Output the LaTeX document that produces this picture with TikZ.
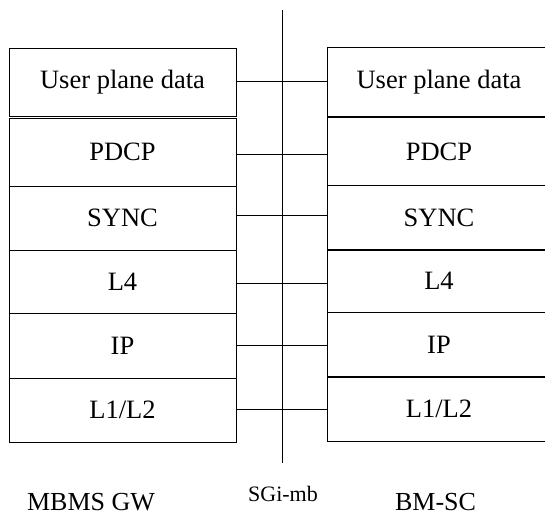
\documentclass[tikz,border=0pt]{standalone}
\usepackage{fontspec}
\setmainfont{Liberation Serif}
\begin{document}
\begin{tikzpicture}[x=1pt,y=-1pt,
  layer/.style={draw, line width=0.9pt, inner sep=0pt, font=\fontsize{26.5}{28}\selectfont},
  rlayer/.style={inner sep=0pt, font=\fontsize{26.5}{28}\selectfont},
  edge/.style={line width=0.9pt},
  link/.style={line width=0.9pt},
  lbl/.style={inner sep=0pt, font=\fontsize{26}{28}\selectfont},
  ifl/.style={inner sep=0pt, font=\fontsize{22}{24}\selectfont}]
\useasboundingbox (0,0) rectangle (545,515);
% left stack (MBMS GW)
\node[layer, minimum width=227pt, minimum height=68pt]   (lu) at (122.5,82)    {User plane data};
\node[layer, minimum width=227pt, minimum height=68pt]   (lp) at (122.5,152)   {PDCP};
\node[layer, minimum width=227pt, minimum height=64pt]   (ls) at (122.5,218)   {SYNC};
\node[layer, minimum width=227pt, minimum height=63.5pt] (l4) at (122.5,281.75) {L4};
\node[layer, minimum width=227pt, minimum height=64.5pt] (li) at (122.5,345.75) {IP};
\node[layer, minimum width=227pt, minimum height=64pt]   (ll) at (122.5,410)   {L1/L2};
% right stack (BM-SC), running off the right edge of the picture
\node[rlayer, minimum width=222pt, minimum height=68pt]   (ru) at (439,82)     {User plane data};
\node[rlayer, minimum width=222pt, minimum height=67.5pt] (rp) at (439,151.75) {PDCP};
\node[rlayer, minimum width=222pt, minimum height=64.5pt] (rs) at (439,217.75) {SYNC};
\node[rlayer, minimum width=222pt, minimum height=62.5pt] (r4) at (439,281.25) {L4};
\node[rlayer, minimum width=222pt, minimum height=64.5pt] (ri) at (439,344.75) {IP};
\node[rlayer, minimum width=222pt, minimum height=64.5pt] (rl) at (439,409.25) {L1/L2};
\foreach \n in {ru,rp,rs,r4,ri,rl}
  \draw[edge] ([xshift=20pt]\n.north east) -- (\n.north west) -- (\n.south west) -- ([xshift=20pt]\n.south east);
% reference point line
\coordinate (ift) at (282,10);
\coordinate (ifb) at (282,463);
\draw[link] (ift) -- (ifb);
% peer links
\draw[link] ([yshift=1pt]lu.east) -- ([yshift=1pt]lu.east -| ru.west);
\draw[link] ([yshift=-2.3pt]lp.east) -- ([yshift=-2.3pt]lp.east -| rp.west);
\draw[link] ([yshift=2.7pt]ls.east) -- ([yshift=2.7pt]ls.east -| rs.west);
\draw[link] ([yshift=-1.2pt]l4.east) -- ([yshift=-1.2pt]l4.east -| r4.west);
\draw[link] ([yshift=0.4pt]li.east) -- ([yshift=0.4pt]li.east -| ri.west);
\draw[link] ([yshift=0.3pt]ll.east) -- ([yshift=0.3pt]ll.east -| rl.west);
% labels
\node[lbl, anchor=base] (gw) at (91,510) {MBMS GW};
\node[ifl, anchor=base] (sgi) at (283,501) {SGi-mb};
\node[lbl, anchor=base] (bm) at (435.5,510) {BM-SC};
\end{tikzpicture}
\end{document}
